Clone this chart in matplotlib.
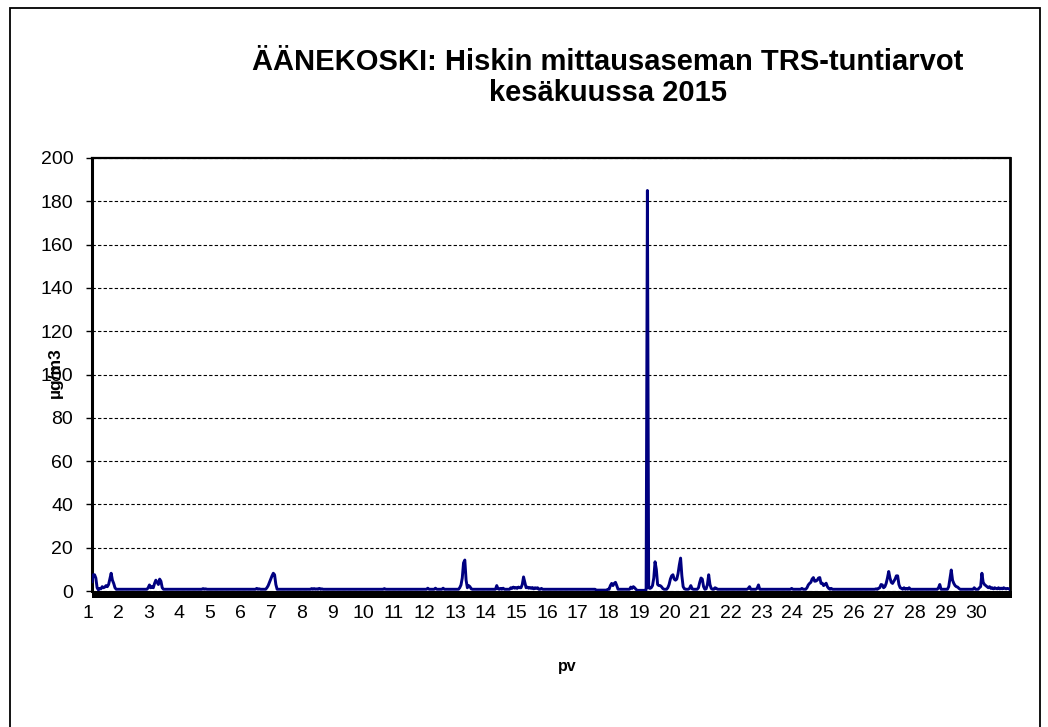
import matplotlib
matplotlib.use("Agg")
import matplotlib.pyplot as plt
import numpy as np
from matplotlib.patches import Rectangle
from matplotlib.transforms import ScaledTranslation

plt.rcParams['font.family'] = ['Liberation Sans', 'DejaVu Sans']

# ---- data ----
days = list(range(1, 31))
hours_per_day = 24
y_ticks = [0, 20, 40, 60, 80, 100, 120, 140, 160, 180, 200]
title_text = "ÄÄNEKOSKI: Hiskin mittausaseman TRS-tuntiarvot\nkesäkuussa 2015"
y_label = "µg/m3"
x_label = "pv"

# hourly TRS values (µg/m3), one row per day, 24 hours each
trs_values = [
    4.3, 7.5, 7.5, 6.0, 1.5, 0.5, 1.2, 1.0, 2.0, 1.5, 1.8, 2.5, 2.0, 3.0, 5.5, 8.2, 5.0, 3.5, 1.5, 0.8, 0.8, 0.8, 0.8, 0.8,   # 1
    0.8, 0.8, 0.8, 0.8, 0.8, 0.8, 0.8, 0.8, 0.8, 0.8, 0.8, 0.8, 0.8, 0.8, 0.8, 0.8, 0.8, 0.8, 0.8, 0.8, 1.5, 2.8, 1.5, 2.0,   # 2
    1.5, 3.5, 5.0, 4.0, 3.0, 5.5, 4.5, 1.5, 0.8, 0.8, 0.8, 0.8, 0.8, 0.8, 0.8, 0.8, 0.8, 0.8, 0.8, 0.8, 0.8, 0.8, 0.8, 0.8,   # 3
    0.8, 0.8, 0.8, 0.8, 0.8, 0.8, 0.8, 0.8, 0.8, 0.8, 0.8, 0.8, 0.8, 0.8, 0.8, 1.1, 0.8, 1.0, 0.8, 0.8, 0.8, 0.8, 0.8, 0.8,   # 4
    0.8, 0.8, 0.8, 0.8, 0.8, 0.8, 0.8, 0.8, 0.8, 0.8, 0.8, 0.8, 0.8, 0.8, 0.8, 0.8, 0.8, 0.8, 0.8, 0.8, 0.8, 0.8, 0.8, 0.8,   # 5
    0.8, 0.8, 0.8, 0.8, 0.8, 0.8, 0.8, 0.8, 0.8, 1.2, 0.8, 1.0, 0.8, 0.8, 0.8, 0.8, 0.8, 1.5, 2.5, 4.0, 5.5, 7.0, 8.2, 7.5,   # 6
    3.0, 0.8, 0.8, 0.8, 0.8, 0.8, 0.8, 0.8, 0.8, 0.8, 0.8, 0.8, 0.8, 0.8, 0.8, 0.8, 0.8, 0.8, 0.8, 0.8, 0.8, 0.8, 0.8, 0.8,   # 7
    0.8, 0.8, 0.8, 0.8, 1.1, 0.8, 1.1, 0.8, 1.0, 0.8, 1.2, 0.8, 1.0, 0.8, 0.8, 0.8, 0.8, 0.8, 0.8, 0.8, 0.8, 0.8, 0.8, 0.8,   # 8
    0.8, 0.8, 0.8, 0.8, 0.8, 0.8, 0.8, 0.8, 0.8, 0.8, 0.8, 0.8, 0.8, 0.8, 0.8, 0.8, 0.8, 0.8, 0.8, 0.8, 0.8, 0.8, 0.8, 0.8,   # 9
    0.8, 0.8, 0.8, 0.8, 0.8, 0.8, 0.8, 0.8, 0.8, 0.8, 0.8, 0.8, 0.8, 1.1, 0.8, 0.8, 0.8, 0.8, 0.8, 0.8, 0.8, 0.8, 0.8, 0.8,   # 10
    0.8, 0.8, 0.8, 0.8, 0.8, 0.8, 0.8, 0.8, 0.8, 0.8, 0.8, 0.8, 0.8, 0.8, 0.8, 0.8, 0.8, 0.8, 0.8, 0.8, 0.8, 0.8, 0.8, 1.3,   # 11
    0.8, 0.8, 0.8, 0.8, 0.8, 1.3, 0.8, 0.8, 0.8, 0.8, 0.8, 1.3, 0.8, 0.8, 0.8, 0.8, 0.8, 0.8, 0.8, 0.8, 0.8, 0.8, 0.8, 0.8,   # 12
    1.5, 2.8, 6.0, 13.0, 14.3, 5.0, 1.5, 2.5, 2.0, 1.0, 0.8, 0.8, 0.8, 0.8, 0.8, 0.8, 0.8, 0.8, 0.8, 0.8, 0.8, 0.8, 0.8, 0.8,   # 13
    0.8, 0.8, 0.8, 0.8, 0.8, 2.5, 1.0, 0.8, 1.2, 0.8, 1.3, 0.8, 0.8, 0.8, 0.8, 0.8, 1.5, 1.2, 1.8, 1.3, 1.6, 1.2, 1.8, 1.5,   # 14
    1.5, 3.0, 6.5, 4.0, 1.5, 1.8, 1.3, 1.6, 1.2, 1.6, 1.0, 1.5, 1.2, 1.5, 0.8, 0.8, 1.2, 0.8, 0.8, 0.8, 0.8, 0.8, 0.8, 0.8,   # 15
    0.8, 0.8, 0.8, 0.8, 0.8, 0.8, 0.8, 0.8, 0.8, 0.8, 0.8, 0.8, 0.8, 0.8, 0.8, 0.8, 0.8, 0.8, 0.8, 0.8, 0.8, 0.8, 0.8, 0.8,   # 16
    0.8, 0.8, 0.8, 0.8, 0.8, 0.8, 0.8, 0.8, 0.8, 0.8, 0.8, 0.4, 0.4, 0.4, 0.4, 0.4, 0.4, 0.4, 0.4, 0.4, 0.8, 0.8, 2.5, 3.5,   # 17
    2.5, 3.5, 4.0, 2.5, 0.8, 0.8, 0.8, 0.8, 0.8, 0.8, 0.8, 0.8, 0.8, 0.8, 1.8, 1.2, 2.0, 1.5, 0.8, 0.3, 0.3, 0.3, 0.3, 0.3,   # 18
    0.3, 0.3, 0.5, 185.0, 1.5, 1.2, 1.5, 2.5, 6.0, 13.5, 10.0, 3.0, 2.5, 2.5, 2.0, 1.2, 0.8, 0.8, 0.8, 1.5, 3.0, 5.5, 7.0, 7.5,   # 19
    5.5, 5.0, 5.5, 8.0, 12.0, 15.2, 7.0, 2.0, 1.0, 0.8, 0.8, 0.8, 1.2, 2.5, 1.0, 0.8, 0.8, 0.8, 0.8, 1.5, 4.0, 6.0, 5.5, 2.0,   # 20
    0.8, 1.0, 3.0, 7.5, 3.0, 1.2, 0.8, 0.8, 1.5, 1.2, 0.8, 0.8, 0.8, 0.8, 0.8, 0.8, 0.8, 0.8, 0.8, 0.8, 0.8, 0.8, 0.8, 0.8,   # 21
    0.8, 0.8, 0.8, 0.8, 0.8, 0.8, 0.8, 0.8, 0.8, 0.8, 1.2, 2.0, 0.8, 0.8, 0.8, 0.8, 0.8, 1.3, 2.8, 0.8, 0.8, 0.8, 0.8, 0.8,   # 22
    0.8, 0.8, 0.8, 0.8, 0.8, 0.8, 0.8, 0.8, 0.8, 0.8, 0.8, 0.8, 0.8, 0.8, 0.8, 0.8, 0.8, 0.8, 0.8, 0.8, 1.2, 0.8, 0.8, 0.8,   # 23
    0.8, 0.8, 0.8, 0.8, 1.2, 0.8, 0.8, 0.8, 1.5, 2.8, 3.5, 4.0, 5.5, 6.2, 4.5, 4.6, 5.0, 6.0, 6.2, 3.5, 3.6, 2.5, 3.0, 3.6,   # 24
    2.0, 1.2, 0.8, 1.2, 0.8, 0.8, 0.8, 0.8, 0.8, 0.8, 0.8, 0.8, 0.8, 0.8, 0.8, 0.8, 0.8, 0.8, 0.8, 0.8, 0.8, 0.8, 0.8, 0.8,   # 25
    0.8, 0.8, 0.8, 0.8, 0.8, 0.8, 0.8, 0.8, 0.8, 0.8, 0.8, 0.8, 0.8, 0.8, 1.0, 0.8, 1.2, 1.5, 3.0, 2.8, 1.5, 2.0, 3.5, 6.0,   # 26
    9.0, 6.0, 4.0, 3.5, 4.5, 5.5, 7.0, 7.0, 3.0, 1.5, 1.2, 0.8, 1.5, 0.8, 1.2, 0.8, 1.5, 0.8, 0.8, 0.8, 0.8, 0.8, 0.8, 0.8,   # 27
    0.8, 0.8, 0.8, 0.8, 0.8, 0.8, 0.8, 0.8, 0.8, 0.8, 0.8, 0.8, 0.8, 0.8, 0.8, 1.5, 3.0, 0.8, 0.8, 0.8, 0.8, 0.8, 0.8, 2.0,   # 28
    6.0, 9.7, 5.0, 3.5, 2.5, 2.0, 1.8, 1.2, 0.8, 0.8, 0.8, 0.8, 0.8, 0.8, 0.8, 0.8, 0.8, 0.8, 0.8, 1.5, 0.8, 0.8, 0.8, 1.5,   # 29
    2.0, 8.2, 4.0, 3.0, 2.5, 2.0, 1.5, 2.0, 1.2, 1.5, 1.0, 1.5, 1.2, 1.0, 1.5, 1.0, 1.3, 1.0, 1.5, 1.2, 1.0, 1.2, 1.0, 0.8,   # 30
]
assert len(trs_values) == len(days) * hours_per_day

# ---- figure ----
W, H = 1048, 727
fig = plt.figure(figsize=(W / 100, H / 100), dpi=100)
fig.patch.set_facecolor('white')

ax_left, ax_right, ax_top, ax_bottom = 92, 1010, 158, 591
ax = fig.add_axes([ax_left / W, 1 - ax_bottom / H, (ax_right - ax_left) / W, (ax_bottom - ax_top) / H])

hours = np.arange(len(trs_values))
ax.plot(hours, trs_values, color='#000080', lw=2.1, zorder=4, solid_joinstyle='round')

ax.set_xlim(0, len(trs_values) - 1)
ax.set_ylim(0, 200)
ax.set_yticks(y_ticks)
ax.set_yticklabels([str(v) for v in y_ticks])
ax.set_xticks([hours_per_day * (d - 1) for d in days])
ax.set_xticklabels([str(d) for d in days])

ax.tick_params(axis='y', direction='out', length=4.5, width=1, pad=9, labelsize=14, colors='black')
ax.tick_params(axis='x', length=0, pad=10, labelsize=14)
for lbl in ax.get_xticklabels():
    lbl.set_transform(lbl.get_transform() + ScaledTranslation(-4.5 / 100, 0, fig.dpi_scale_trans))

ax.yaxis.grid(True, linestyle=(0, (3, 2)), color='black', lw=0.8)
ax.set_axisbelow(True)

ax.spines['bottom'].set_visible(False)
ax.spines['left'].set_linewidth(2.2)
ax.spines['top'].set_linewidth(1.6)
ax.spines['right'].set_linewidth(2.0)

# thick black band under the zero line
band_h = 7 / (ax_bottom - ax_top)
ax.add_patch(Rectangle((0, -band_h), 1.002, band_h, transform=ax.transAxes,
                       facecolor='black', edgecolor='none', clip_on=False, zorder=3))

# titles and labels
lines = title_text.split("\n")
fig.text(608 / W, 1 - 62 / H, lines[0], ha='center', va='center', fontsize=21, fontweight='bold')
fig.text(608 / W, 1 - 93 / H, lines[1], ha='center', va='center', fontsize=21, fontweight='bold')
fig.text(55 / W, 1 - 373 / H, y_label, ha='center', va='center', rotation=90, fontsize=12.5, fontweight='bold')
fig.text(567 / W, 1 - 667 / H, x_label, ha='center', va='center', fontsize=11.5, fontweight='bold')

# outer chart border
fig.add_artist(Rectangle((10 / W, -0.05), (1040 - 10) / W, (1 - 8 / H) + 0.05,
                         transform=fig.transFigure, fill=False, edgecolor='black', lw=1.3))

fig.savefig('out.png', dpi=100, facecolor='white')
